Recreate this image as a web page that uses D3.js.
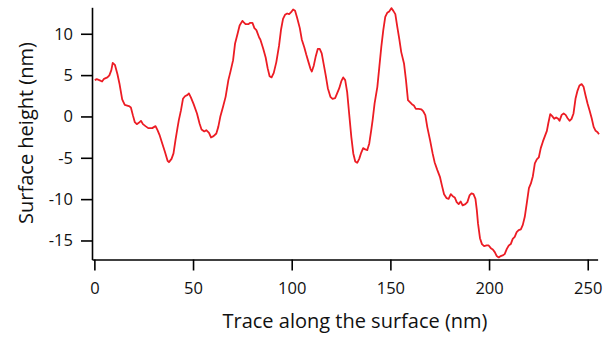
<!DOCTYPE html>
<html>
<head>
<meta charset="utf-8">
<script src="https://cdn.jsdelivr.net/npm/d3@7"></script>
<style>
  body { margin: 0; background: #fff; }
  svg { display: block; }
</style>
</head>
<body>
<div id="chart"></div>
<script>
// trace position along the surface (nm)
const traceX = [0.2, 1.2, 2.5, 3.9, 4.9, 6.6, 7.6, 8.6, 9.3, 10.4, 11.7, 12.7, 14.1, 15.4, 17.5, 18.5, 19.5, 20.5, 21.5, 22.5,
  23.6, 24.6, 25.9, 27.3, 29.3, 31.0, 32.0, 33.0, 34.4, 35.7, 37.1, 37.8, 39.1, 40.1, 41.1, 42.1, 42.8, 43.9, 44.9, 45.9,
  47.2, 47.9, 48.9, 50.3, 52.0, 53.3, 54.3, 55.7, 56.7, 58.1, 59.1, 60.4, 61.8, 62.8, 63.8, 65.2, 66.5, 67.9, 68.9, 70.3,
  71.3, 72.6, 73.6, 75.0, 75.6, 76.6, 78.0, 79.0, 80.1, 81.1, 82.1, 83.5, 84.1, 85.5, 86.8, 87.8, 88.8, 89.8, 90.9, 92.2,
  93.6, 94.6, 95.6, 96.6, 97.7, 98.7, 99.7, 100.7, 101.7, 102.7, 104.1, 105.1, 106.4, 107.4, 108.5, 109.5, 110.2, 111.2, 112.2, 113.2,
  114.2, 115.2, 116.2, 117.3, 118.3, 119.6, 120.7, 122.0, 123.0, 124.1, 125.1, 126.1, 127.1, 128.1, 129.1, 130.2, 131.2, 132.2, 133.2, 134.2,
  135.2, 136.2, 137.3, 138.3, 139.3, 140.3, 141.0, 142.0, 143.4, 144.4, 145.4, 146.4, 147.4, 148.4, 149.4, 150.5, 151.5, 152.5, 153.5, 154.5,
  155.5, 156.9, 157.9, 158.9, 159.9, 160.9, 161.9, 162.9, 164.3, 165.7, 166.7, 167.7, 168.7, 170.1, 171.4, 172.4, 173.8, 175.1, 176.1, 177.2,
  178.5, 179.5, 180.6, 181.6, 182.6, 183.6, 184.6, 185.6, 186.6, 188.0, 189.0, 190.1, 191.1, 192.1, 193.1, 193.8, 194.4, 195.4, 196.4, 197.5,
  198.8, 199.8, 200.9, 201.9, 202.9, 203.9, 204.9, 205.9, 206.9, 207.9, 209.0, 210.0, 211.0, 212.0, 213.0, 214.0, 215.0, 216.1, 217.1, 218.1,
  219.1, 220.2, 221.2, 222.2, 223.2, 224.2, 225.2, 226.2, 227.3, 228.3, 229.3, 230.0, 231.0, 232.0, 233.0, 234.0, 235.0, 235.7, 236.8, 237.8,
  238.8, 239.8, 240.8, 241.8, 242.8, 243.8, 244.8, 245.8, 246.9, 247.9, 248.9, 249.9, 250.9, 252.0, 253.0, 254.0, 255.0, 255.7];

// surface height (nm)
const traceY = [4.39, 4.51, 4.39, 4.23, 4.55, 4.72, 4.96, 5.6, 6.48, 6.24, 5.11, 3.99, 2.06, 1.4, 1.25, 1.09, 0.16, -0.69, -0.93, -0.77,
  -0.53, -0.93, -1.17, -1.41, -1.41, -1.17, -1.66, -2.22, -3.26, -4.23, -5.37, -5.53, -5.13, -4.47, -2.87, -1.41, -0.45, 0.76, 2.13, 2.45,
  2.61, 2.78, 2.3, 1.49, 0.36, -0.85, -1.57, -1.81, -1.66, -1.98, -2.54, -2.38, -2.06, -1.26, -0.05, 1.16, 2.37, 4.39, 5.36, 6.81,
  8.83, 10.04, 11.0, 11.56, 11.4, 11.16, 11.16, 11.32, 11.32, 10.68, 10.44, 9.55, 9.31, 8.26, 7.13, 5.84, 4.87, 4.72, 5.27, 6.57,
  8.59, 10.52, 11.8, 12.29, 12.45, 12.37, 12.61, 12.94, 12.77, 11.97, 10.68, 9.31, 8.34, 7.45, 6.57, 5.76, 5.44, 6.17, 7.29, 8.17,
  8.17, 7.62, 6.32, 4.87, 3.42, 2.37, 2.13, 2.21, 2.78, 3.42, 4.23, 4.72, 4.39, 2.94, 0.36, -2.47, -4.47, -5.44, -5.61, -5.13,
  -4.4, -3.83, -3.99, -4.07, -3.26, -1.66, -0.45, 1.57, 3.58, 6.0, 8.42, 10.44, 12.04, 12.53, 12.7, 13.1, 12.77, 12.37, 10.83, 9.38,
  7.78, 6.41, 4.39, 1.97, 1.73, 1.49, 1.33, 0.92, 0.92, 0.85, 0.6, 0.16, -1.29, -2.87, -4.47, -5.53, -6.49, -7.3, -8.34, -9.4,
  -9.88, -9.96, -9.4, -9.64, -9.79, -10.36, -10.6, -10.28, -10.76, -10.6, -10.36, -9.55, -9.31, -9.4, -9.96, -11.33, -12.94, -14.72, -15.44, -15.68,
  -15.6, -15.6, -15.93, -16.08, -16.41, -16.89, -17.05, -16.89, -16.81, -16.65, -16.01, -15.6, -15.44, -14.8, -14.56, -13.99, -13.75, -13.66, -13.11, -12.14,
  -10.52, -8.67, -8.1, -7.22, -5.68, -5.2, -4.96, -3.83, -3.02, -2.38, -1.74, -0.85, 0.28, 0.04, -0.29, -0.12, -0.29, -0.53, 0.19, 0.36,
  0.19, -0.21, -0.53, -0.29, 0.36, 2.13, 3.1, 3.75, 3.91, 3.58, 2.54, 1.57, 0.76, -0.21, -1.26, -1.74, -1.9, -2.14];

const xTicks = [0, 50, 100, 150, 200, 250];
const yTicks = [-15, -10, -5, 0, 5, 10];

const width = 615;
const height = 338;
const font = "'Open Sans', 'DejaVu Sans', sans-serif";

const svg = d3.select("#chart")
    .append("svg")
    .attr("width", width)
    .attr("height", height);

const x = d3.scaleLinear()
    .domain([-1.2, 255])
    .range([92, 597.6]);

const y = d3.scaleLinear()
    .domain([-17.3, 13.2])
    .range([259.5, 7.3]);

const data = traceX.map((d, i) => ({ x: d, y: traceY[i] }));

const line = d3.line()
    .x(d => x(d.x))
    .y(d => y(d.y));

svg.append("path")
    .datum(data)
    .attr("fill", "none")
    .attr("stroke", "#ec1c24")
    .attr("stroke-width", 1.8)
    .attr("stroke-linejoin", "round")
    .attr("d", line);

// plain hyphen for negative numbers, like the original
const fmt = d => String(d);

function xAxis(g) {
    g.attr("transform", `translate(0,${y.range()[0]})`)
        .call(d3.axisBottom(x).tickValues(xTicks).tickFormat(fmt).tickSize(11).tickSizeOuter(0).tickPadding(12))
        .attr("font-size", "16.5px")
        .attr("font-family", font);
}

function yAxis(g) {
    g.attr("transform", `translate(${x.range()[0]},0)`)
        .call(d3.axisLeft(y).tickValues(yTicks).tickFormat(fmt).tickSize(11).tickSizeOuter(0).tickPadding(8))
        .attr("font-size", "16.5px")
        .attr("font-family", font);
}

svg.append("g").call(xAxis);
svg.append("g").call(yAxis);

svg.selectAll(".domain, .tick line")
    .attr("stroke", "#000")
    .attr("stroke-width", 1.6);
svg.selectAll(".tick text").attr("fill", "#111");

svg.append("text")
    .attr("x", 355)
    .attr("y", 328)
    .attr("text-anchor", "middle")
    .attr("font-family", font)
    .attr("font-size", "20px")
    .attr("fill", "#111")
    .text("Trace along the surface (nm)");

svg.append("text")
    .attr("transform", "translate(33,133) rotate(-90)")
    .attr("text-anchor", "middle")
    .attr("font-family", font)
    .attr("font-size", "20px")
    .attr("fill", "#111")
    .text("Surface height (nm)");
</script>
</body>
</html>
